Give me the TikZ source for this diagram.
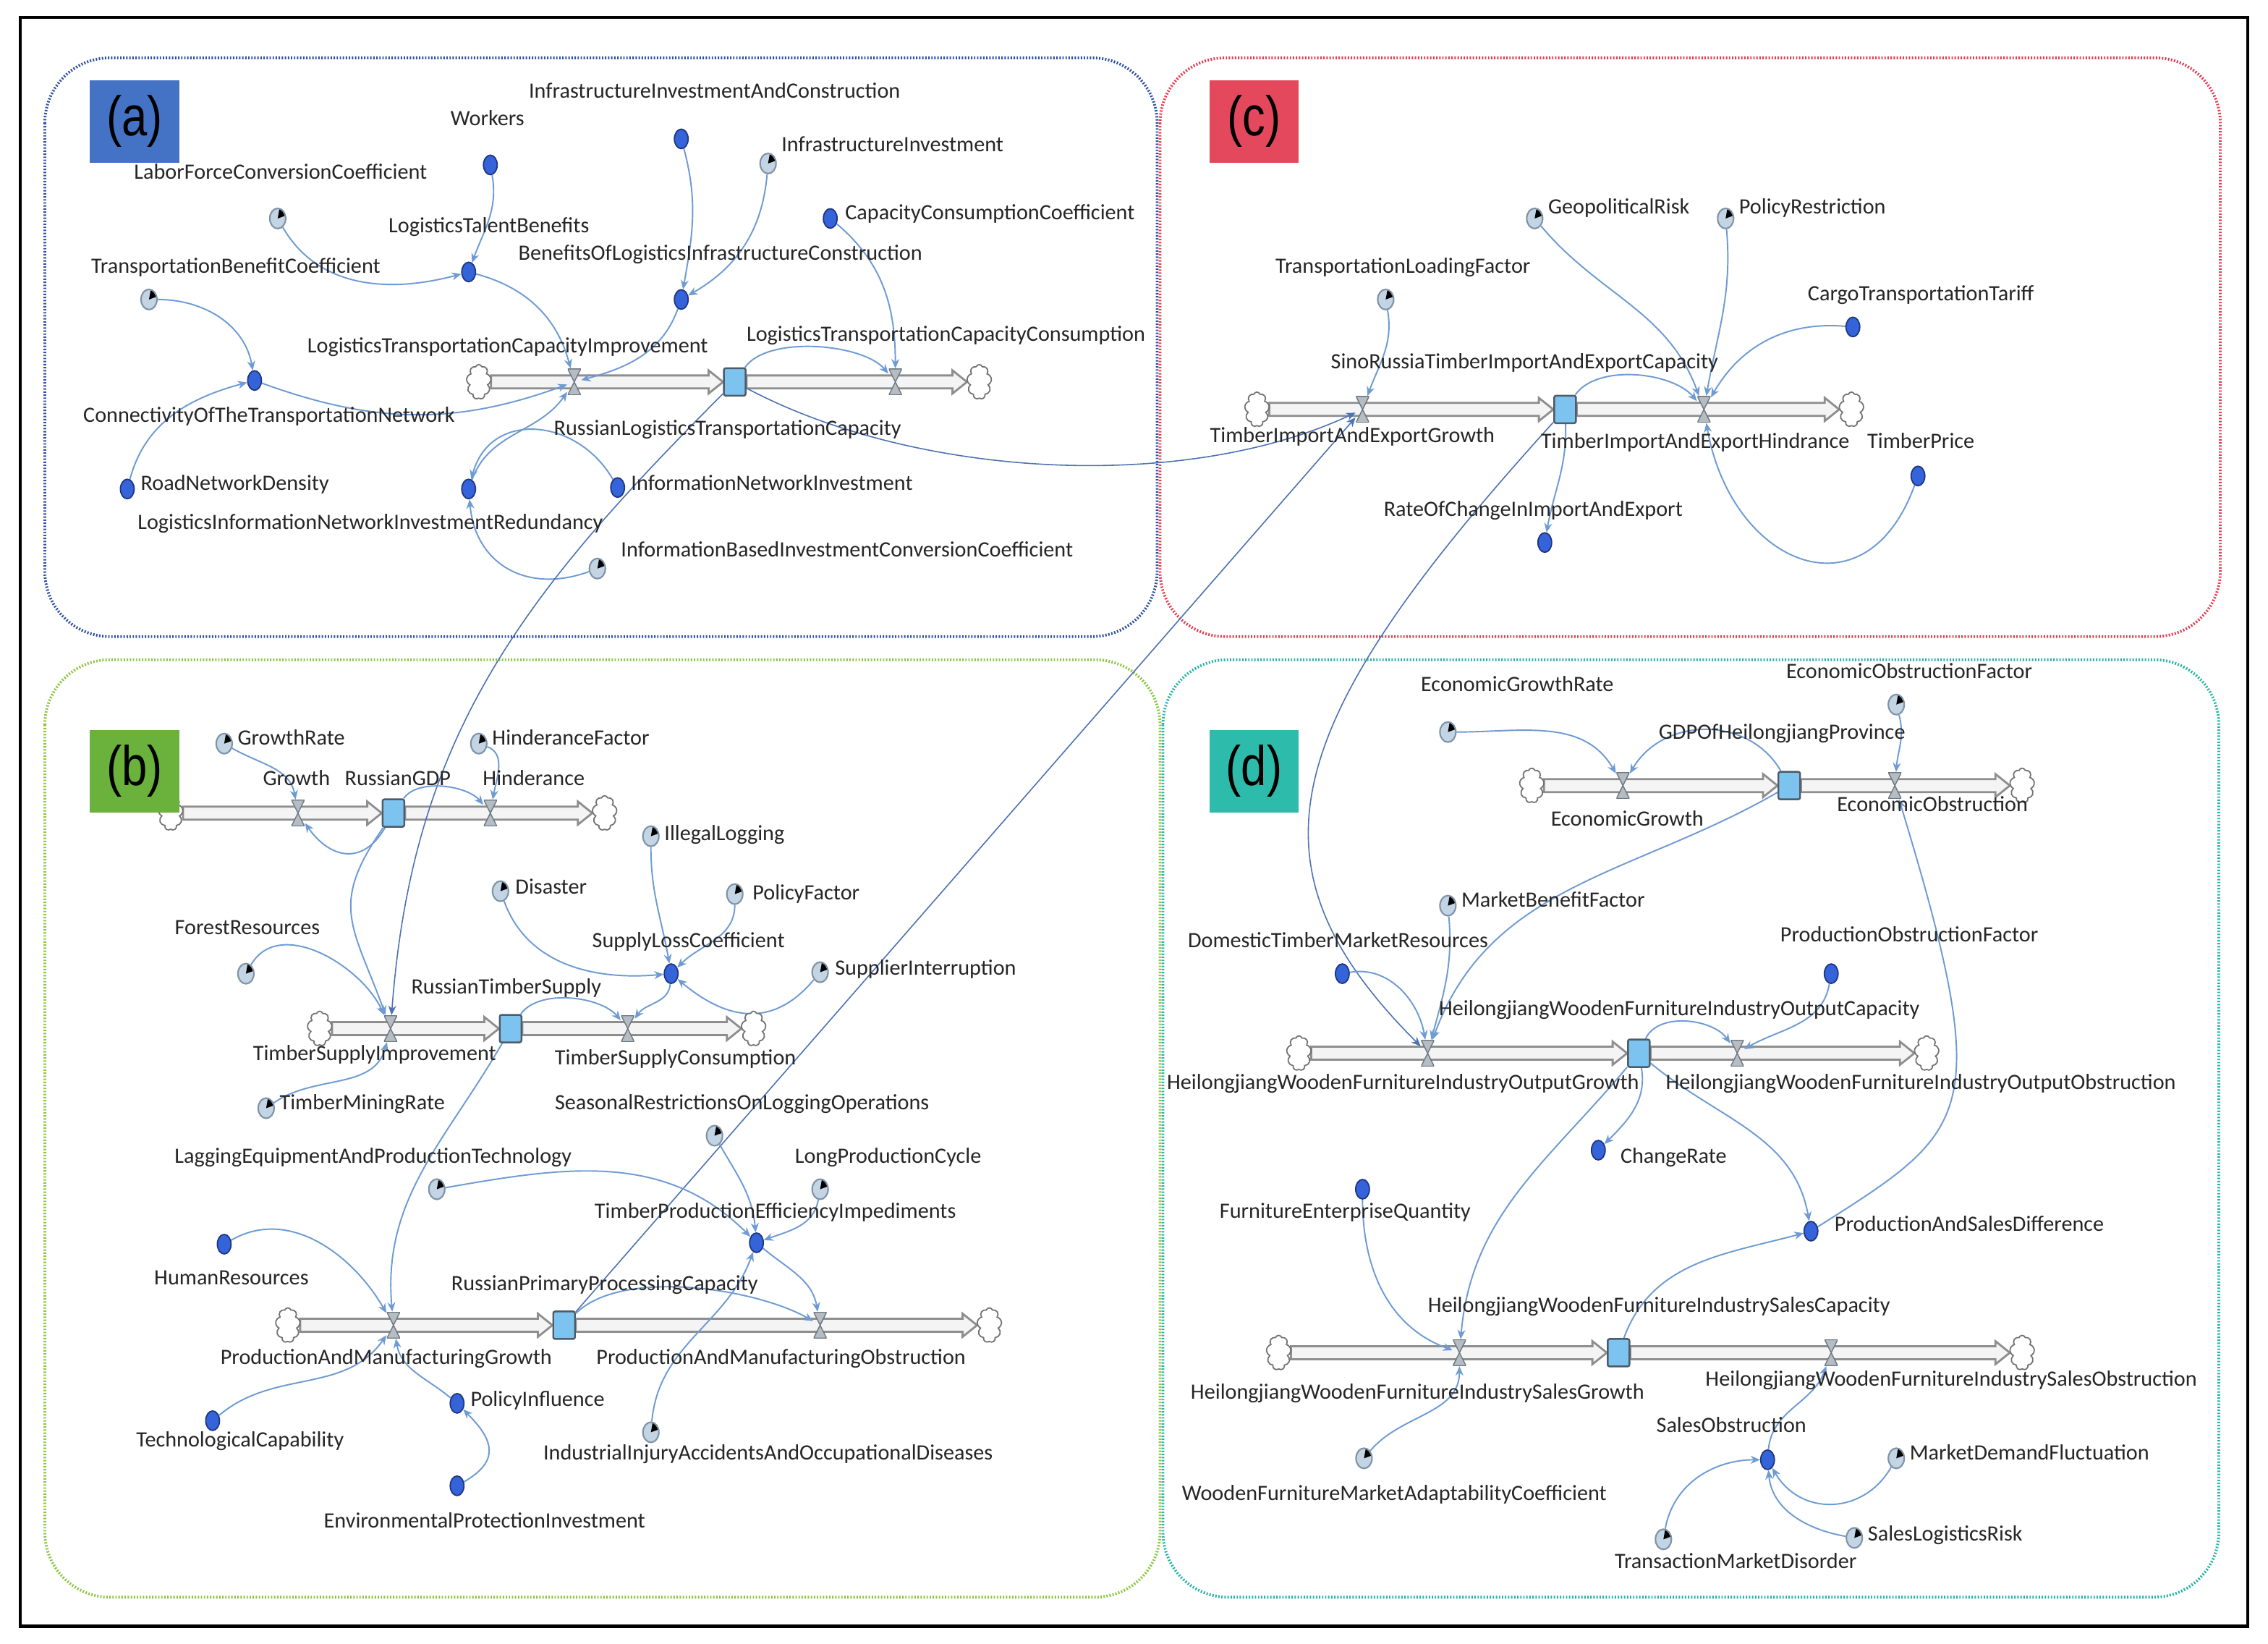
\documentclass[tikz,border=0pt]{standalone}
\usepackage{fontspec}
\setmainfont{Carlito}
\newfontfamily\panelfont{Liberation Sans}[FakeStretch=0.82]
\usetikzlibrary{shapes.geometric,shapes.symbols,arrows.meta,calc,backgrounds}
\definecolor{auxfill}{HTML}{3563D9}
\definecolor{auxdraw}{HTML}{1E3580}
\definecolor{constfill}{HTML}{C3D5E4}
\definecolor{constdraw}{HTML}{7F93A6}
\definecolor{stockfill}{HTML}{7DC3F0}
\definecolor{stockdraw}{HTML}{4F5B66}
\definecolor{valvefill}{HTML}{B4BCC4}
\definecolor{valvedraw}{HTML}{6E7780}
\definecolor{pipedraw}{HTML}{8E8E8E}
\definecolor{pipefill}{HTML}{F4F4F4}
\definecolor{linkc}{HTML}{6E9BD3}
\definecolor{longc}{HTML}{4C72B3}
\definecolor{txt}{HTML}{262626}
\definecolor{fra}{HTML}{2E50A0}
\definecolor{frc}{HTML}{E63B52}
\definecolor{frb}{HTML}{8CC640}
\definecolor{frd}{HTML}{27B3A6}
\definecolor{boxa}{HTML}{4472C4}
\definecolor{boxc}{HTML}{E3485C}
\definecolor{boxb}{HTML}{6AB23C}
\definecolor{boxd}{HTML}{2DBCAB}
\tikzset{
 aux/.style={ellipse, draw=auxdraw, fill=auxfill, line width=0.5pt, minimum width=1.9mm, minimum height=2.7mm, inner sep=0},
 cst/.style={ellipse, draw=constdraw, fill=constfill, line width=0.6pt, minimum width=2.2mm, minimum height=2.8mm, inner sep=0,
   path picture={\fill[black] (path picture bounding box.center) -- +(20:3mm) -- +(80:3mm) -- cycle;}},
 stockbox/.style={rectangle, draw=stockdraw, fill=stockfill, line width=0.7pt, rounded corners=0.25mm, minimum width=3mm, minimum height=3.8mm, inner sep=0},
 valve/.style={rectangle, inner sep=0, minimum width=1.8mm, minimum height=3.6mm,
   path picture={\filldraw[fill=valvefill, draw=valvedraw, line width=0.4pt] (path picture bounding box.north west) -- (path picture bounding box.north east) -- (path picture bounding box.south west) -- (path picture bounding box.south east) -- cycle;}},
 sink/.style={cloud, cloud puffs=9, cloud puff arc=140, aspect=0.7, draw=pipedraw!80!black, fill=white, line width=0.5pt, minimum width=3.4mm, minimum height=4.8mm, inner sep=0},
 lbl/.style={font=\fontsize{8.6}{9}\selectfont, text=txt, inner sep=0, text height=1.6mm, text depth=0.45mm},
 lnk/.style={draw=linkc, line width=0.55pt, -{Stealth[length=1.3mm, width=1.1mm]}},
 longlnk/.style={lnk, draw=longc, line width=0.45pt},
 pipeline/.style={draw=pipedraw, fill=pipefill, line width=0.8pt},
 panelframe/.style={rounded corners=0.9cm, line width=1.1pt, dash pattern=on 0.55pt off 0.65pt},
 panelbox/.style={rectangle, inner sep=0, minimum width=1.24cm, minimum height=1.14cm, font=\panelfont\fontsize{22}{24}\selectfont, text=black}
}
\newcommand{\flowpipe}[2]{%
 \draw[pipeline] let \p1=(#1.east), \p2=(#2.west) in
 (\x1,\y1+0.9mm) -- (\x2-2mm,\y1+0.9mm) -- (\x2-2mm,\y1+1.6mm) -- (\x2,\y1) -- (\x2-2mm,\y1-1.6mm) -- (\x2-2mm,\y1-0.9mm) -- (\x1,\y1-0.9mm) -- cycle;}
\begin{document}
\begin{tikzpicture}[x=0.02cm,y=0.02cm]
\useasboundingbox (0,0) rectangle (1568,-1136);
% ---------------- panel (a)
\node[aux] (aWork) at (339,-114) {};
\node[cst] (aLFCC) at (192,-151) {};
\node[aux] (aLTB) at (324,-188) {};
\node[aux] (aIIAC) at (471,-96) {};
\node[cst] (aII) at (531,-113) {};
\node[aux] (aCCC) at (574,-151) {};
\node[cst] (aTBC) at (103,-207) {};
\node[aux] (aBOLIC) at (471,-207) {};
\node[sink] (aC1) at (331,-264) {};
\node[valve] (aV1) at (397,-264) {};
\node[stockbox] (aS) at (508,-264) {};
\node[valve] (aV2) at (619,-264) {};
\node[sink] (aC2) at (677,-264) {};
\node[aux] (aCOTN) at (176,-263) {};
\node[aux] (aRND) at (88,-338) {};
\node[aux] (aLINIR) at (324,-338) {};
\node[aux] (aINI) at (427,-337) {};
\node[cst] (aIBICC) at (413,-393) {};
\node[lbl] (tIIAC) at (494,-65) {InfrastructureInvestmentAndConstruction};
\node[lbl] (tWork) at (337,-84) {Workers};
\node[lbl] (tLFCC) at (194,-121) {LaborForceConversionCoefficient};
\node[lbl, anchor=west] (tII) at (540,-102) {InfrastructureInvestment};
\node[lbl] (tLTB) at (338,-158) {LogisticsTalentBenefits};
\node[lbl, anchor=west] (tCCC) at (584,-149) {CapacityConsumptionCoefficient};
\node[lbl] (tTBC) at (163,-186) {TransportationBenefitCoefficient};
\node[lbl] (tBOLIC) at (498,-177) {BenefitsOfLogisticsInfrastructureConstruction};
\node[lbl] (tLTCI) at (351,-241) {LogisticsTransportationCapacityImprovement};
\node[lbl] (tLTCC) at (654,-233) {LogisticsTransportationCapacityConsumption};
\node[lbl] (tCOTN) at (186,-289) {ConnectivityOfTheTransportationNetwork};
\node[lbl] (tRLTC) at (503,-298) {RussianLogisticsTransportationCapacity};
\node[lbl, anchor=west] (tRND) at (97,-336) {RoadNetworkDensity};
\node[lbl] (tLINIR) at (256,-363) {LogisticsInformationNetworkInvestmentRedundancy};
\node[lbl, anchor=west] (tINI) at (436,-336) {InformationNetworkInvestment};
\node[lbl, anchor=west] (tIBICC) at (429,-382) {InformationBasedInvestmentConversionCoefficient};
% ---------------- panel (c)
\node[cst] (cGR) at (1061,-151) {};
\node[lbl, anchor=west] (tGR) at (1070,-145) {GeopoliticalRisk};
\node[cst] (cPR) at (1193,-151) {};
\node[lbl, anchor=west] (tPR) at (1202,-145) {PolicyRestriction};
\node[cst] (cTLF) at (958,-207) {};
\node[lbl] (tTLF) at (970,-186) {TransportationLoadingFactor};
\node[aux] (cCTT) at (1281,-226) {};
\node[lbl] (tCTT) at (1328,-205) {CargoTransportationTariff};
\node[lbl] (tSRT) at (1054,-252) {SinoRussiaTimberImportAndExportCapacity};
\node[sink] (cC1) at (869,-283) {};
\node[valve] (cV1) at (942,-283) {};
\node[stockbox] (cS) at (1082,-283) {};
\node[valve] (cV2) at (1178,-283) {};
\node[sink] (cC2) at (1280,-283) {};
\node[lbl] (tTIEG) at (935,-303) {TimberImportAndExportGrowth};
\node[lbl] (tTIEH) at (1172,-307) {TimberImportAndExportHindrance};
\node[lbl] (tTP) at (1328,-307) {TimberPrice};
\node[aux] (cTP) at (1326,-329) {};
\node[lbl] (tROC) at (1060,-354) {RateOfChangeInImportAndExport};
\node[aux] (cROC) at (1068,-375) {};
% ---------------- panel (b)
\node[cst] (bGR) at (155,-514) {};
\node[lbl, anchor=west] (tbGR) at (164,-512) {GrowthRate};
\node[cst] (bHF) at (331,-514) {};
\node[lbl, anchor=west] (tHF) at (340,-512) {HinderanceFactor};
\node[lbl] (tGrowth) at (205,-540) {Growth};
\node[lbl] (tRGDP) at (275,-540) {RussianGDP};
\node[lbl] (tHind) at (369,-540) {Hinderance};
\node[sink] (bC1) at (118,-562) {};
\node[valve] (bV1) at (206,-562) {};
\node[stockbox] (bS1) at (272,-562) {};
\node[valve] (bV2) at (339,-562) {};
\node[sink] (bC2) at (418,-562) {};
\node[cst] (bIL) at (450,-578) {};
\node[lbl, anchor=west] (tIL) at (459,-578) {IllegalLogging};
\node[cst] (bDis) at (346,-616) {};
\node[lbl, anchor=west] (tDis) at (356,-615) {Disaster};
\node[cst] (bPF) at (508,-618) {};
\node[lbl, anchor=west] (tPF) at (520,-619) {PolicyFactor};
\node[lbl] (tFR) at (171,-643) {ForestResources};
\node[cst] (bFR) at (170,-673) {};
\node[lbl] (tSLC) at (476,-652) {SupplyLossCoefficient};
\node[aux] (bSLC) at (464,-673) {};
\node[cst] (bSI) at (567,-672) {};
\node[lbl, anchor=west] (tSI) at (577,-671) {SupplierInterruption};
\node[lbl] (tRTS) at (350,-684) {RussianTimberSupply};
\node[sink] (bC3) at (221,-711) {};
\node[valve] (bV3) at (270,-711) {};
\node[stockbox] (bS2) at (353,-711) {};
\node[valve] (bV4) at (434,-711) {};
\node[sink] (bC4) at (521,-711) {};
\node[lbl] (tTSI) at (259,-730) {TimberSupplyImprovement};
\node[lbl] (tTSC) at (467,-733) {TimberSupplyConsumption};
\node[cst] (bTMR) at (184,-766) {};
\node[lbl, anchor=west] (tTMR) at (193,-764) {TimberMiningRate};
\node[lbl] (tSR) at (513,-764) {SeasonalRestrictionsOnLoggingOperations};
\node[cst] (bSR) at (494,-785) {};
\node[lbl] (tLE) at (258,-801) {LaggingEquipmentAndProductionTechnology};
\node[cst] (bLE) at (302,-822) {};
\node[lbl] (tLPC) at (614,-801) {LongProductionCycle};
\node[cst] (bLPC) at (567,-822) {};
\node[lbl] (tTPEI) at (536,-839) {TimberProductionEfficiencyImpediments};
\node[aux] (bTPEI) at (523,-859) {};
\node[aux] (bHR) at (155,-860) {};
\node[lbl] (tHR) at (160,-885) {HumanResources};
\node[lbl] (tRPPC) at (418,-889) {RussianPrimaryProcessingCapacity};
\node[sink] (bC5) at (199,-916) {};
\node[valve] (bV5) at (272,-916) {};
\node[stockbox] (bS3) at (390,-916) {};
\node[valve] (bV6) at (567,-916) {};
\node[sink] (bC6) at (684,-916) {};
\node[lbl] (tPMG) at (267,-940) {ProductionAndManufacturingGrowth};
\node[lbl] (tPMO) at (540,-940) {ProductionAndManufacturingObstruction};
\node[aux] (bPI) at (316,-970) {};
\node[lbl, anchor=west] (tPI) at (325,-969) {PolicyInfluence};
\node[aux] (bTC) at (147,-982) {};
\node[lbl] (tTC) at (166,-997) {TechnologicalCapability};
\node[cst] (bIIA) at (450,-990) {};
\node[lbl] (tIIA) at (531,-1006) {IndustrialInjuryAccidentsAndOccupationalDiseases};
\node[aux] (bEPI) at (316,-1027) {};
\node[lbl] (tEPI) at (335,-1053) {EnvironmentalProtectionInvestment};
% ---------------- panel (d)
\node[lbl] (tEGR) at (1049,-475) {EconomicGrowthRate};
\node[cst] (dEGR) at (1001,-506) {};
\node[lbl] (tEOF) at (1320,-466) {EconomicObstructionFactor};
\node[cst] (dEOF) at (1311,-487) {};
\node[lbl] (tGDP) at (1232,-508) {GDPOfHeilongjiangProvince};
\node[sink] (dC1) at (1059,-543) {};
\node[valve] (dV1) at (1122,-543) {};
\node[stockbox] (dS1) at (1237,-543) {};
\node[valve] (dV2) at (1310,-543) {};
\node[sink] (dC2) at (1398,-543) {};
\node[lbl] (tEG) at (1125,-568) {EconomicGrowth};
\node[lbl] (tEO) at (1336,-558) {EconomicObstruction};
\node[cst] (dMBF) at (1001,-626) {};
\node[lbl, anchor=west] (tMBF) at (1010,-624) {MarketBenefitFactor};
\node[lbl] (tDTMR) at (925,-652) {DomesticTimberMarketResources};
\node[aux] (dDTMR) at (928,-673) {};
\node[lbl] (tPOF) at (1320,-648) {ProductionObstructionFactor};
\node[aux] (dPOF) at (1266,-673) {};
\node[lbl] (tOC) at (1161,-699) {HeilongjiangWoodenFurnitureIndustryOutputCapacity};
\node[sink] (dC3) at (898,-728) {};
\node[valve] (dV3) at (987,-728) {};
\node[stockbox] (dS2) at (1133,-728) {};
\node[valve] (dV4) at (1201,-728) {};
\node[sink] (dC4) at (1332,-728) {};
\node[lbl] (tOG) at (970,-750) {HeilongjiangWoodenFurnitureIndustryOutputGrowth};
\node[lbl] (tOO) at (1328,-750) {HeilongjiangWoodenFurnitureIndustryOutputObstruction};
\node[aux] (dCR) at (1105,-795) {};
\node[lbl, anchor=west] (tCR) at (1120,-801) {ChangeRate};
\node[aux] (dFEQ) at (942,-822) {};
\node[lbl] (tFEQ) at (930,-839) {FurnitureEnterpriseQuantity};
\node[aux] (dPSD) at (1252,-851) {};
\node[lbl, anchor=west] (tPSD) at (1268,-848) {ProductionAndSalesDifference};
\node[lbl] (tSC) at (1147,-904) {HeilongjiangWoodenFurnitureIndustrySalesCapacity};
\node[sink] (dC5) at (884,-935) {};
\node[valve] (dV5) at (1009,-935) {};
\node[stockbox] (dS3) at (1119,-935) {};
\node[valve] (dV6) at (1266,-935) {};
\node[sink] (dC6) at (1398,-935) {};
\node[lbl] (tSG) at (980,-964) {HeilongjiangWoodenFurnitureIndustrySalesGrowth};
\node[lbl] (tSOb) at (1349,-955) {HeilongjiangWoodenFurnitureIndustrySalesObstruction};
\node[lbl] (tSO) at (1197,-987) {SalesObstruction};
\node[aux] (dSO) at (1222,-1009) {};
\node[cst] (dMDF) at (1311,-1008) {};
\node[lbl, anchor=west] (tMDF) at (1320,-1006) {MarketDemandFluctuation};
\node[cst] (dWFMAC) at (943,-1008) {};
\node[lbl] (tWFMAC) at (964,-1034) {WoodenFurnitureMarketAdaptabilityCoefficient};
\node[cst] (dSLR) at (1282,-1063) {};
\node[lbl, anchor=west] (tSLR) at (1291,-1062) {SalesLogisticsRisk};
\node[cst] (dTMD) at (1150,-1064) {};
\node[lbl] (tTMD) at (1200,-1081) {TransactionMarketDisorder};
% ---------------- panel letters
\node[panelbox, fill=boxa] (pa) at (93,-84) {(a)};
\node[panelbox, fill=boxc] (pc) at (867,-84) {(c)};
\node[panelbox, fill=boxb] (pb) at (93,-533) {(b)};
\node[panelbox, fill=boxd] (pd) at (867,-533) {(d)};
% ---------------- background: frames, pipes, links
\begin{scope}[on background layer]
\fill[white] (0,0) rectangle (1568,-1136);
\draw[black, line width=1.3pt] (14,-12) rectangle (1554,-1124);
\draw[panelframe, draw=fra] (31,-40) rectangle (800,-440);
\draw[panelframe, draw=frc] (802,-40) rectangle (1535,-440);
\draw[panelframe, draw=frb] (31,-456) rectangle (802,-1104);
\draw[panelframe, draw=frd] (804,-456) rectangle (1534,-1104);
\flowpipe{aC1}{aS} \flowpipe{aS}{aC2}
\flowpipe{cC1}{cS} \flowpipe{cS}{cC2}
\flowpipe{bC1}{bS1} \flowpipe{bS1}{bC2}
\flowpipe{bC3}{bS2} \flowpipe{bS2}{bC4}
\flowpipe{bC5}{bS3} \flowpipe{bS3}{bC6}
\flowpipe{dC1}{dS1} \flowpipe{dS1}{dC2}
\flowpipe{dC3}{dS2} \flowpipe{dS2}{dC4}
\flowpipe{dC5}{dS3} \flowpipe{dS3}{dC6}
% (a)
\draw[lnk] (aWork) to[out=-80,in=70] (aLTB);
\draw[lnk] (aLFCC) to[out=-60,in=195] (aLTB);
\draw[lnk] (aLTB) to[out=-15,in=105] (aV1);
\draw[lnk] (aIIAC) to[out=-75,in=80] (aBOLIC);
\draw[lnk] (aII) to[out=-95,in=30] (aBOLIC);
\draw[lnk] (aBOLIC) to[out=-110,in=15] (aV1);
\draw[lnk] (aCCC) to[out=-40,in=90] (aV2);
\draw[lnk] (aS) to[out=55,in=130,looseness=0.7] (aV2);
\draw[lnk] (aTBC) to[out=0,in=100] (aCOTN);
\draw[lnk] (aRND) to[out=75,in=195] (aCOTN);
\draw[lnk] (aCOTN) to[out=-20,in=200] (aV1);
\draw[lnk] (aINI) to[out=120,in=75,looseness=1.3] (aLINIR);
\draw[lnk] (aLINIR) to[out=70,in=235] (aV1);
\draw[lnk] (aIBICC) to[out=200,in=-85,looseness=1.2] (aLINIR);
\draw[longlnk] (aS) to[out=-28,in=205,looseness=0.8] (cV1);
\draw[longlnk] (aS) .. controls +(-150,-150) and +(15,200) .. (bV3);
% (c)
\draw[lnk] (cTLF) to[out=-80,in=70] (cV1);
\draw[lnk] (cGR) to[out=-50,in=110] (cV2);
\draw[lnk] (cPR) to[out=-85,in=80] (cV2);
\draw[lnk] (cCTT) to[out=175,in=60] (cV2);
\draw[lnk] (cS) to[out=55,in=130,looseness=0.8] (cV2);
\draw[lnk] (cTP) to[out=-110,in=-80,looseness=1.7] (cV2);
\draw[lnk] (cS) to[out=-88,in=80] (cROC);
\draw[longlnk] (cS) .. controls +(-200,-220) and +(-130,130) .. (dV3);
\draw[longlnk] (bS3) -- (cV1);
% (b)
\draw[lnk] (bGR) to[out=-30,in=100] (bV1);
\draw[lnk] (bS1) to[out=-120,in=-55,looseness=1.4] (bV1);
\draw[lnk] (bS1) to[out=55,in=130,looseness=0.8] (bV2);
\draw[lnk] (bHF) to[out=-20,in=80] (bV2);
\draw[lnk] (bS1) to[out=-125,in=110,looseness=1.3] (bV3);
\draw[lnk] (bFR) to[out=60,in=115] (bV3);
\draw[lnk] (bTMR) to[out=35,in=-105] (bV3);
\draw[lnk] (bS2) to[out=55,in=130,looseness=0.8] (bV4);
\draw[lnk] (bDis) to[out=-70,in=185] (bSLC);
\draw[lnk] (bIL) to[out=-90,in=100] (bSLC);
\draw[lnk] (bPF) to[out=-90,in=45] (bSLC);
\draw[lnk] (bSI) to[out=-130,in=-40,looseness=1.2] (bSLC);
\draw[lnk] (bSLC) to[out=-95,in=55] (bV4);
\draw[lnk] (bS2) to[out=-120,in=95] (bV5);
\draw[lnk] (bHR) to[out=30,in=120] (bV5);
\draw[lnk] (bTC) to[out=40,in=-125] (bV5);
\draw[lnk] (bPI) to[out=140,in=-80] (bV5);
\draw[lnk] (bEPI) to[out=30,in=-45,looseness=1.5] (bPI);
\draw[lnk] (bSR) to[out=-60,in=95] (bTPEI);
\draw[lnk] (bLE) to[out=10,in=135] (bTPEI);
\draw[lnk] (bLPC) to[out=-100,in=20] (bTPEI);
\draw[lnk] (bIIA) to[out=85,in=-110] (bTPEI);
\draw[lnk] (bTPEI) to[out=-40,in=100] (bV6);
\draw[lnk] (bS3) to[out=45,in=150,looseness=0.7] (bV6);
% (d)
\draw[lnk] (dEGR) to[out=0,in=120] (dV1);
\draw[lnk] (dS1) to[out=120,in=60,looseness=1.1] (dV1);
\draw[lnk] (dEOF) to[out=-75,in=85] (dV2);
\draw[lnk] (dS1) to[out=-150,in=70] (dV3);
\draw[lnk] (dDTMR) to[out=10,in=100] (dV3);
\draw[lnk] (dMBF) to[out=-85,in=75] (dV3);
\draw[lnk] (dS2) to[out=65,in=125,looseness=0.9] (dV4);
\draw[lnk] (dPOF) to[out=-100,in=30] (dV4);
\draw[lnk] (dS2) to[out=-80,in=45] (dCR);
\draw[lnk] (dS2) to[out=-40,in=100] (dPSD);
\draw[lnk] (dPSD) .. controls +(110,70) and +(70,-230) .. (dV2);
\draw[lnk] (dS3) to[out=70,in=195] (dPSD);
\draw[lnk] (dFEQ) to[out=-90,in=160] (dV5);
\draw[lnk] (dS2) to[out=-130,in=85] (dV5);
\draw[lnk] (dWFMAC) to[out=50,in=-90] (dV5);
\draw[lnk] (dSO) to[out=85,in=-110] (dV6);
\draw[lnk] (dMDF) to[out=-120,in=-60,looseness=1.2] (dSO);
\draw[lnk] (dSLR) to[out=170,in=-85] (dSO);
\draw[lnk] (dTMD) to[out=80,in=180] (dSO);
\end{scope}
\end{tikzpicture}
\end{document}
